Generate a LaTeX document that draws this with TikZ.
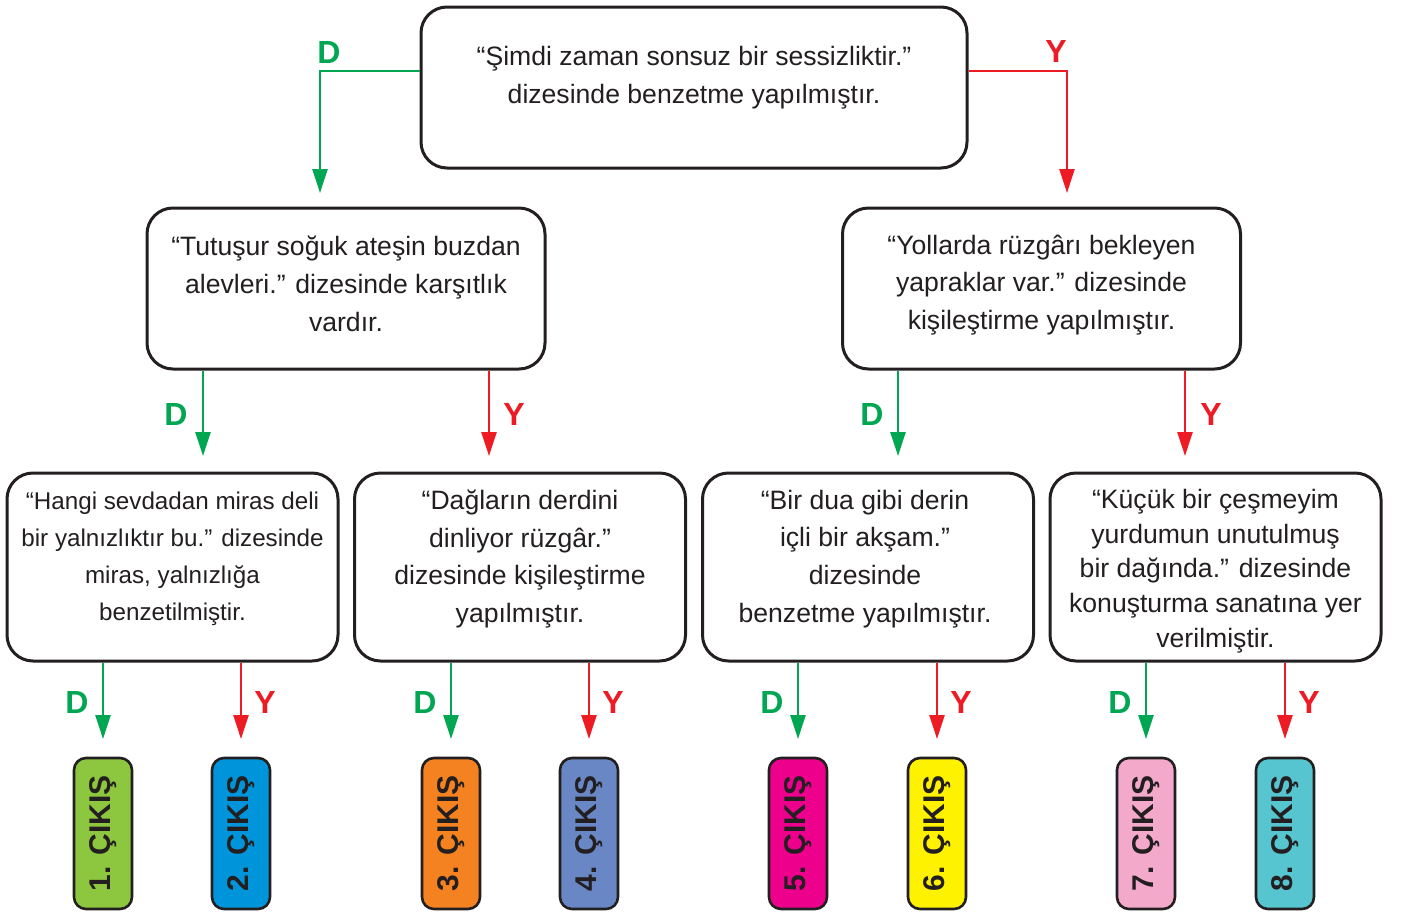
\documentclass[tikz,border=0pt]{standalone}
\usepackage{fontspec}
\setmainfont{Liberation Sans}
\usetikzlibrary{arrows.meta}
\definecolor{dgreen}{HTML}{00A651}
\definecolor{dred}{HTML}{ED1C24}
\definecolor{txtc}{HTML}{231F20}
\definecolor{ex1}{HTML}{8DC63F}
\definecolor{ex2}{HTML}{0095DA}
\definecolor{ex3}{HTML}{F58220}
\definecolor{ex4}{HTML}{6A87C5}
\definecolor{ex5}{HTML}{EC008C}
\definecolor{ex6}{HTML}{FFF200}
\definecolor{ex7}{HTML}{F2A9CA}
\definecolor{ex8}{HTML}{56C5D0}
\tikzset{
  bigbox/.style={draw=txtc, line width=1.5pt, rounded corners=13pt, fill=white, inner sep=0pt},
  txt/.style={text=txtc, align=center, inner sep=0pt, font=\fontsize{13.3}{18.9}\selectfont},
  exitbox/.style={draw=txtc, line width=1.3pt, rounded corners=6pt, fill=#1, minimum width=29pt, minimum height=75.5pt, inner sep=0pt, text=txtc, font=\fontsize{15}{15}\selectfont\bfseries},
  garr/.style={draw=dgreen, line width=1.2pt, -{Triangle[length=12pt,width=7.5pt]}},
  rarr/.style={draw=dred, line width=1.2pt, -{Triangle[length=12pt,width=7.5pt]}},
  glab/.style={text=dgreen, inner sep=0pt, font=\fontsize{16}{16}\selectfont\bfseries},
  rlab/.style={text=dred, inner sep=0pt, font=\fontsize{16}{16}\selectfont\bfseries}
}
\begin{document}
\begin{tikzpicture}[x=0.5pt,y=-0.5pt]
\useasboundingbox (0,0) rectangle (1403,911);
\clip (0,0) rectangle (1403,911);

% boxes
\node[bigbox, minimum width=273pt, minimum height=80.5pt] (top) at (694,87.5) {};
\node[bigbox, minimum width=199pt, minimum height=80.5pt] (l2a) at (346,288.5) {};
\node[bigbox, minimum width=199pt, minimum height=80.5pt] (l2b) at (1041.5,288.5) {};
\node[bigbox, minimum width=165.5pt, minimum height=94pt] (l3a) at (172.5,567) {};
\node[bigbox, minimum width=165.5pt, minimum height=94pt] (l3b) at (520,567) {};
\node[bigbox, minimum width=165.5pt, minimum height=94pt] (l3c) at (868,567) {};
\node[bigbox, minimum width=165.5pt, minimum height=94pt] (l3d) at (1215.5,567) {};

% texts
\node[txt] (topt) at (694,77.5) {“Şimdi zaman sonsuz bir sessizliktir.”\\dizesinde benzetme yapılmıştır.};
\node[txt] (l2at) at (346,284) {“Tutuşur soğuk ateşin buzdan\\alevleri.” dizesinde karşıtlık\\vardır.};
\node[txt] (l2bt) at (1041.5,285) {“Yollarda rüzgârı bekleyen\\yapraklar var.” dizesinde\\kişileştirme yapılmıştır.};
\node[txt, font=\fontsize{12.1}{18.5}\selectfont] (l3at) at (172.5,559) {“Hangi sevdadan miras deli\\bir yalnızlıktır bu.” dizesinde\\miras, yalnızlığa\\benzetilmiştir.};
\node[txt] (l3bt) at (520,559) {“Dağların derdini\\dinliyor rüzgâr.”\\dizesinde kişileştirme\\yapılmıştır.};
\node[txt] (l3ct) at (865,559) {“Bir dua gibi derin\\içli bir akşam.”\\dizesinde\\benzetme yapılmıştır.};
\node[txt, font=\fontsize{13.3}{17.3}\selectfont] (l3dt) at (1215.5,571) {“Küçük bir çeşmeyim\\yurdumun unutulmuş\\bir dağında.” dizesinde\\konuşturma sanatına yer\\verilmiştir.};

% exits
\node[exitbox=ex1] (e1) at (103,833.5) {\rotatebox{90}{1. ÇIKIŞ}};
\node[exitbox=ex2] (e2) at (241,833.5) {\rotatebox{90}{2. ÇIKIŞ}};
\node[exitbox=ex3] (e3) at (451,833.5) {\rotatebox{90}{3. ÇIKIŞ}};
\node[exitbox=ex4] (e4) at (589,833.5) {\rotatebox{90}{4. ÇIKIŞ}};
\node[exitbox=ex5] (e5) at (798,833.5) {\rotatebox{90}{5. ÇIKIŞ}};
\node[exitbox=ex6] (e6) at (937,833.5) {\rotatebox{90}{6. ÇIKIŞ}};
\node[exitbox=ex7] (e7) at (1146,833.5) {\rotatebox{90}{7. ÇIKIŞ}};
\node[exitbox=ex8] (e8) at (1285,833.5) {\rotatebox{90}{8. ÇIKIŞ}};

% arrow end coordinates
\coordinate (ty) at (0,71);
\coordinate (a1) at (320,193);
\coordinate (a2) at (1067,193);
\coordinate (b1) at (203,456);
\coordinate (b2) at (489,456);
\coordinate (b3) at (898,456);
\coordinate (b4) at (1185,456);
\coordinate (c1) at (103,739);
\coordinate (c2) at (241,739);
\coordinate (c3) at (451,739);
\coordinate (c4) at (589,739);
\coordinate (c5) at (798,739);
\coordinate (c6) at (937,739);
\coordinate (c7) at (1146,739);
\coordinate (c8) at (1285,739);

% connectors
\draw[garr] (top.west |- ty) -| (a1);
\draw[rarr] (top.east |- ty) -| (a2);
\draw[garr] (l2a.south -| b1) -- (b1);
\draw[rarr] (l2a.south -| b2) -- (b2);
\draw[garr] (l2b.south -| b3) -- (b3);
\draw[rarr] (l2b.south -| b4) -- (b4);
\draw[garr] (l3a.south -| c1) -- (c1);
\draw[rarr] (l3a.south -| c2) -- (c2);
\draw[garr] (l3b.south -| c3) -- (c3);
\draw[rarr] (l3b.south -| c4) -- (c4);
\draw[garr] (l3c.south -| c5) -- (c5);
\draw[rarr] (l3c.south -| c6) -- (c6);
\draw[garr] (l3d.south -| c7) -- (c7);
\draw[rarr] (l3d.south -| c8) -- (c8);

% labels
\node[glab] (d0) at (329,52) {D};
\node[rlab] (y0) at (1056,51) {Y};
\node[glab] (d1) at (176,414) {D};
\node[rlab] (y1) at (514,414) {Y};
\node[glab] (d2) at (872,414) {D};
\node[rlab] (y2) at (1211,414) {Y};
\node[glab] (d3) at (77,702) {D};
\node[rlab] (y3) at (265,702) {Y};
\node[glab] (d4) at (425,702) {D};
\node[rlab] (y4) at (613,702) {Y};
\node[glab] (d5) at (772,702) {D};
\node[rlab] (y5) at (961,702) {Y};
\node[glab] (d6) at (1120,702) {D};
\node[rlab] (y6) at (1309,702) {Y};
\end{tikzpicture}
\end{document}
